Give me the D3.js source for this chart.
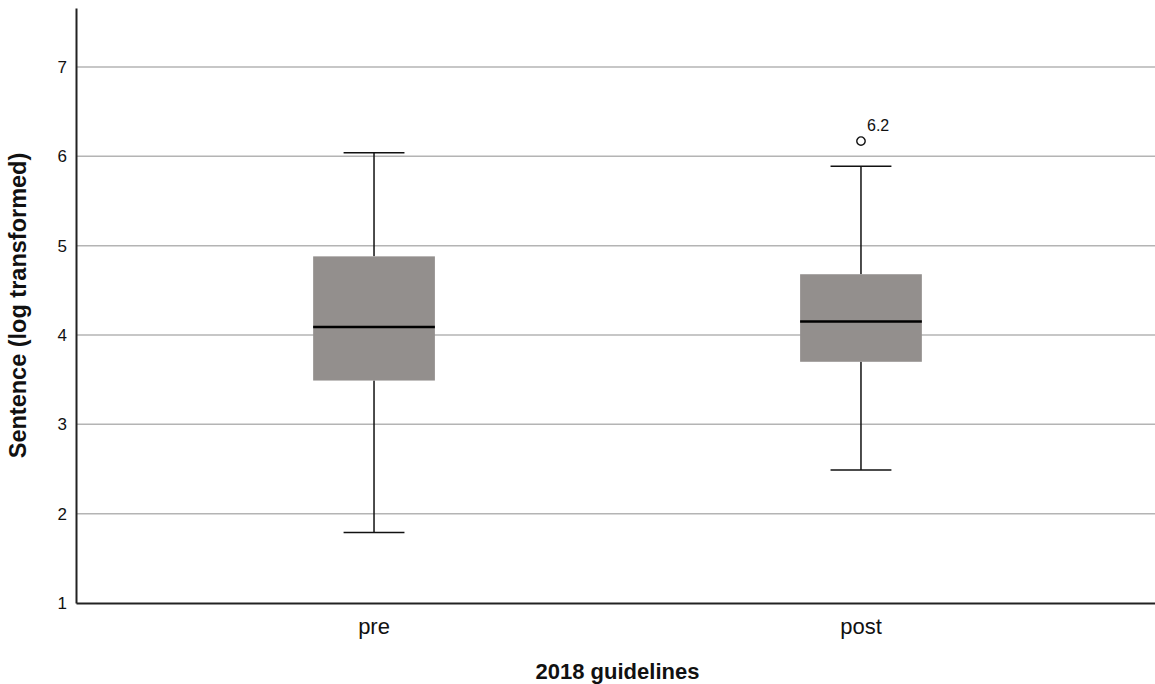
<!DOCTYPE html>
<html>
<head>
<meta charset="utf-8">
<script src="https://cdn.jsdelivr.net/npm/d3@7"></script>
<style>
  html, body { margin: 0; padding: 0; background: #fff; }
  svg { display: block; font-family: "Liberation Sans", Arial, sans-serif; }
</style>
</head>
<body>
<svg id="chart" width="1155" height="684"></svg>
<script>
// Groups and five-number summaries (log-transformed sentence)
const groups = ["pre", "post"];
const q1 = [3.49, 3.70];
const medians = [4.09, 4.15];
const q3 = [4.88, 4.68];
const whiskerLow = [1.79, 2.49];
const whiskerHigh = [6.04, 5.89];
const outlierGroup = ["post"];
const outlierValue = [6.17];
const outlierLabel = ["6.2"];
const yTicks = [1, 2, 3, 4, 5, 6, 7];

const svg = d3.select("#chart");
const margin = { left: 76, right: -4, top: 8, bottom: 81 };
const W = 1155, H = 684;

const x = d3.scaleBand()
  .domain(groups)
  .range([margin.left, W - margin.right])
  .paddingInner(0)
  .paddingOuter(0.112);

const y = d3.scaleLinear()
  .domain([1, 7.66])
  .range([H - margin.bottom, margin.top]);

// Horizontal gridlines
svg.append("g")
  .selectAll("line")
  .data(yTicks.filter(t => t > 1))
  .join("line")
  .attr("x1", margin.left)
  .attr("x2", W)
  .attr("y1", d => y(d))
  .attr("y2", d => y(d))
  .attr("stroke", "#b4b4b4")
  .attr("stroke-width", 1.5);

// Y axis
const yAxis = d3.axisLeft(y).tickValues(yTicks).tickSize(0).tickPadding(9).tickFormat(d3.format("d"));
const gy = svg.append("g")
  .attr("transform", `translate(${margin.left},0)`)
  .call(yAxis);
gy.select(".domain").attr("stroke", "#222").attr("stroke-width", 2);
gy.selectAll("text").attr("font-size", 17).attr("fill", "#111")
  .attr("font-family", "'Liberation Sans', Arial, sans-serif");

// X axis
const xAxis = d3.axisBottom(x).tickSize(0).tickPadding(15);
const gx = svg.append("g")
  .attr("transform", `translate(0,${y(1)})`)
  .call(xAxis);
gx.select(".domain").attr("stroke", "#222").attr("stroke-width", 2);
gx.selectAll("text").attr("font-size", 22).attr("fill", "#111")
  .attr("font-family", "'Liberation Sans', Arial, sans-serif");

// Box plots
const boxW = x.bandwidth() * 0.25;
const capW = boxW * 0.5;
const data = groups.map((g, i) => ({
  g, q1: q1[i], med: medians[i], q3: q3[i], lo: whiskerLow[i], hi: whiskerHigh[i]
}));

const box = svg.append("g").selectAll("g").data(data).join("g")
  .attr("transform", d => `translate(${x(d.g) + x.bandwidth() / 2},0)`);

// whisker stems
box.append("line")
  .attr("x1", 0).attr("x2", 0)
  .attr("y1", d => y(d.hi)).attr("y2", d => y(d.q3))
  .attr("stroke", "#111").attr("stroke-width", 1.5);
box.append("line")
  .attr("x1", 0).attr("x2", 0)
  .attr("y1", d => y(d.q1)).attr("y2", d => y(d.lo))
  .attr("stroke", "#111").attr("stroke-width", 1.5);
// whisker caps
box.append("line")
  .attr("x1", -capW / 2).attr("x2", capW / 2)
  .attr("y1", d => y(d.hi)).attr("y2", d => y(d.hi))
  .attr("stroke", "#111").attr("stroke-width", 1.5);
box.append("line")
  .attr("x1", -capW / 2).attr("x2", capW / 2)
  .attr("y1", d => y(d.lo)).attr("y2", d => y(d.lo))
  .attr("stroke", "#111").attr("stroke-width", 1.5);
// interquartile box
box.append("rect")
  .attr("x", -boxW / 2)
  .attr("width", boxW)
  .attr("y", d => y(d.q3))
  .attr("height", d => y(d.q1) - y(d.q3))
  .attr("fill", "#938f8d");
// median
box.append("line")
  .attr("x1", -boxW / 2).attr("x2", boxW / 2)
  .attr("y1", d => y(d.med)).attr("y2", d => y(d.med))
  .attr("stroke", "#000").attr("stroke-width", 2.5);

// Outliers
const outliers = outlierGroup.map((g, i) => ({ g, v: outlierValue[i], label: outlierLabel[i] }));
const og = svg.append("g").selectAll("g").data(outliers).join("g")
  .attr("transform", d => `translate(${x(d.g) + x.bandwidth() / 2},${y(d.v)})`);
og.append("circle")
  .attr("r", 4.2)
  .attr("fill", "#fff")
  .attr("stroke", "#111")
  .attr("stroke-width", 1.4);
og.append("text")
  .attr("x", 6)
  .attr("y", -10)
  .attr("font-size", 16)
  .attr("fill", "#111")
  .text(d => d.label);

// Axis titles
svg.append("text")
  .attr("x", (margin.left + W - margin.right) / 2)
  .attr("y", 679)
  .attr("text-anchor", "middle")
  .attr("font-size", 22)
  .attr("font-weight", "bold")
  .attr("fill", "#111")
  .text("2018 guidelines");

svg.append("text")
  .attr("transform", `translate(26,${(y(1) + margin.top) / 2}) rotate(-90)`)
  .attr("text-anchor", "middle")
  .attr("font-size", 23.5)
  .attr("font-weight", "bold")
  .attr("fill", "#111")
  .text("Sentence (log transformed)");
</script>
</body>
</html>
